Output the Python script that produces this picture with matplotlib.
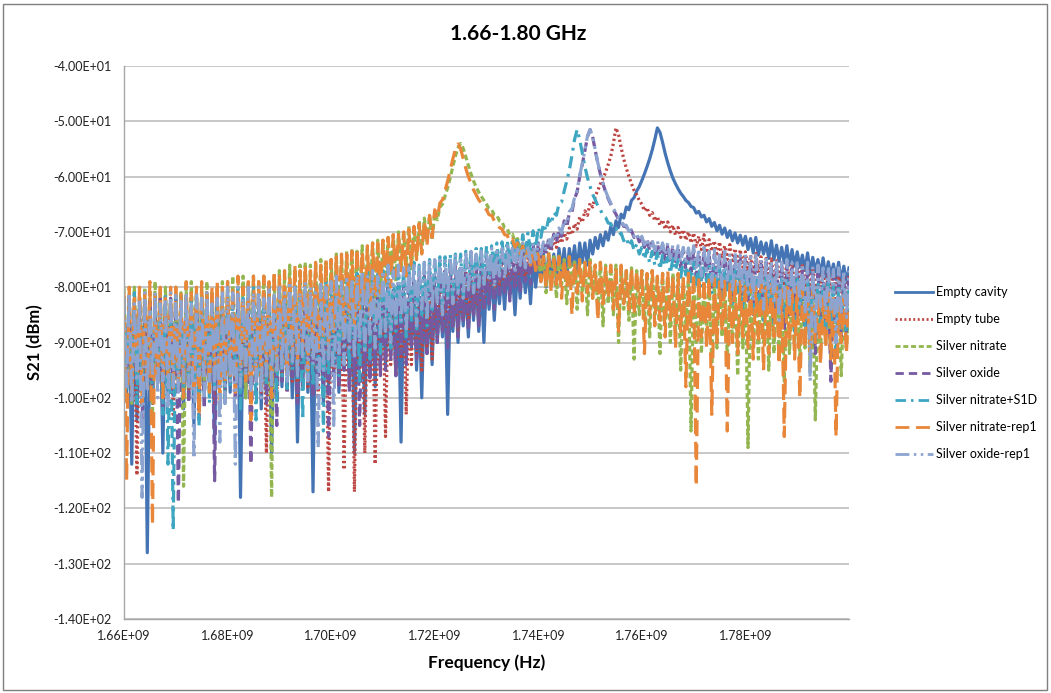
import matplotlib
matplotlib.use("Agg")
import matplotlib.pyplot as plt
import numpy as np
from matplotlib.patches import Rectangle
from matplotlib.ticker import FuncFormatter

plt.rcParams["font.family"] = ["Lato", "DejaVu Sans"]

# S21 readings (dBm), one value every 0.5 MHz from 1.66 GHz to 1.80 GHz
FREQ_START_HZ = 1.66e9
FREQ_STEP_HZ = 0.5e6

empty_cavity = [
    -84, -99, -86, -112, -83, -104, -85, -98, -84, -128, -87, -101, -83, -97, -85, -110, -84, -100, -86, -96,
    -85, -97, -83, -102, -86, -99, -84, -105, -85, -96, -87, -100, -84, -98, -85, -108, -83, -97, -86, -101,
    -85, -99, -86, -97, -84, -118, -86, -100, -85, -98, -87, -96, -84, -102, -86, -99, -85, -110, -86, -97,
    -86, -98, -85, -96, -87, -100, -84, -108, -86, -97, -85, -99, -86, -117, -84, -96, -86, -101, -85, -98,
    -85, -96, -84, -99, -86, -95, -83, -97, -85, -110, -84, -94, -86, -103, -84, -96, -85, -98, -83, -94,
    -83, -94, -82, -92, -84, -96, -83, -108, -82, -93, -84, -91, -82, -95, -83, -100, -82, -92, -83, -94,
    -81, -90, -82, -89, -80, -103, -81, -88, -80, -90, -79, -87, -80, -89, -79, -86, -78, -88, -79, -90,
    -78, -84, -77, -86, -78, -83, -77, -84, -76, -82, -77, -85, -76, -82, -75, -81, -76, -83, -75, -80,
    -75, -79, -74, -80, -74, -78, -74, -79, -73, -77, -73, -78, -73, -76, -72.5, -77, -72, -75.5, -72, -76,
    -71.5, -74, -71, -73, -70.5, -72.5, -70, -71.5, -69, -70.5, -68, -69.2, -66.8, -67.5, -65.5, -66, -64.3, -63.8, -62.6, -61.8,
    -60.7, -59.5, -58.2, -56.8, -55.2, -53.3, -51.2, -52.0, -53.8, -55.8, -57.5, -59.0, -60.3, -61.3, -62.2, -63.0, -63.6, -64.3, -64.7, -65.4,
    -65.6, -66.6, -66.3, -67.3, -67.0, -68.2, -67.6, -69.0, -68.3, -69.8, -68.8, -70.4, -69.3, -71.0, -69.8, -71.6, -70.2, -72.0, -70.6, -72.4,
    -70.8, -73.2, -71.2, -73.8, -71.0, -74.2, -71.8, -74.0, -72.0, -74.8, -71.6, -75.0, -72.4, -75.3, -72.8, -75.6, -72.5, -76.0, -73.2, -76.2,
    -73.6, -76.4, -74.2, -77.0, -73.8, -77.4, -74.6, -77.2, -75.0, -77.8, -74.7, -78.2, -75.4, -78.0, -75.8, -78.6, -75.5, -79.0, -76.2, -79.2,
    -76.5,
]

empty_tube = [
    -85, -97, -84, -100, -86, -114, -84, -98, -85, -96, -83, -101, -85, -97, -84, -99, -86, -97, -84, -103,
    -84, -98, -85, -96, -83, -100, -85, -97, -84, -104, -86, -98, -84, -97, -85, -101, -83, -96, -85, -99,
    -84, -97, -85, -100, -83, -96, -85, -98, -84, -102, -85, -97, -84, -99, -83, -110, -85, -97, -84, -100,
    -84, -96, -85, -99, -83, -97, -84, -101, -85, -96, -83, -98, -84, -97, -85, -100, -83, -96, -84, -117,
    -83, -96, -84, -98, -82, -113, -84, -96, -83, -117, -84, -95, -82, -110, -84, -97, -83, -112, -82, -95,
    -82, -107, -83, -94, -81, -96, -82, -93, -81, -103, -82, -94, -80, -92, -81, -95, -80, -91, -81, -93,
    -80, -89, -79, -88, -80, -90, -78, -87, -79, -88, -78, -86, -77, -87, -78, -85, -77, -86, -76, -84,
    -76, -81, -75.5, -82, -75, -80, -75, -81, -74.5, -79, -74, -80, -74, -78, -73.5, -79, -73.5, -77, -73, -76,
    -73, -74.5, -72.5, -74, -72, -73.5, -71.2, -72.8, -70.8, -72, -70.2, -71.3, -69.3, -70.5, -68.5, -69.5, -67.3, -68.3, -66.2, -67.0,
    -64.8, -65.5, -63.5, -62.5, -61.3, -60.4, -59.2, -57.8, -56.3, -54.0, -51.2, -52.4, -54.8, -56.8, -58.5, -60.0, -61.3, -62.5, -63.3, -64.3,
    -65.0, -66.2, -65.6, -67.0, -66.5, -68.0, -67.2, -68.8, -67.8, -69.5, -68.2, -70.0, -68.8, -70.6, -69.2, -71.0, -69.6, -71.5, -70.0, -72.0,
    -70.2, -72.6, -70.8, -73.2, -70.5, -73.8, -71.4, -73.5, -71.6, -74.4, -71.8, -74.8, -72.5, -75.0, -72.3, -75.6, -73.0, -75.8, -73.2, -76.4,
    -73.6, -77.0, -74.2, -78.2, -73.9, -77.5, -74.5, -78.8, -74.8, -78.0, -74.6, -79.3, -75.2, -78.6, -75.5, -79.8, -75.2, -79.0, -75.8, -80.2,
    -76.0, -79.5, -75.7, -80.6, -76.4, -80.0, -76.8, -81.0, -76.5, -80.4, -77.0, -81.5, -77.3, -80.8, -77.1, -82.0, -77.6, -81.2, -77.8, -82.4,
    -78.0,
]

silver_nitrate = [
    -80, -98, -81, -101, -80, -96, -82, -99, -80, -97, -81, -103, -79, -96, -81, -100, -80, -97, -82, -98,
    -80, -96, -81, -116, -80, -98, -79, -95, -81, -100, -80, -97, -79, -99, -81, -96, -80, -98, -79, -101,
    -79, -95, -78, -98, -80, -96, -78, -100, -79, -94, -78, -97, -79, -95, -78, -99, -79, -118, -78, -96,
    -77, -94, -78, -92, -76, -95, -77, -91, -76, -93, -75.5, -90, -76, -94, -75.5, -91, -75, -89, -75.5, -92,
    -75, -87, -74, -89, -74.5, -86, -73.5, -88, -73, -85, -73.5, -84, -72.5, -86, -73, -83, -72, -84, -71.5, -82,
    -71.5, -80, -71, -78, -70.5, -79, -70, -77, -70, -76, -69, -77, -69, -75, -68, -73.5, -67.5, -72, -67, -71.5,
    -66.6, -67.8, -65.5, -65.0, -63.5, -62.0, -60.2, -58.2, -56.3, -54.8, -54.0, -54.9, -56.4, -58.0, -59.5, -60.8, -61.9, -62.8, -63.6, -64.3,
    -65.0, -65.8, -66.0, -66.9, -67.0, -68.0, -68.2, -69.3, -69.4, -70.6, -70.4, -71.8, -71.2, -73.0, -72.0, -74.2, -72.6, -75.4, -73.2, -76.2,
    -73.5, -79, -74, -81, -73.5, -80, -74.5, -82, -74, -79.5, -75, -83, -74.5, -80, -75, -84, -75, -81, -75.5, -85,
    -75, -82, -76, -84, -75.5, -87, -76, -83, -76.5, -85, -76, -90, -76.5, -84, -77, -86, -76.5, -93, -77, -85,
    -77, -86, -77.5, -89, -77, -85, -78, -92, -77.5, -87, -78, -90, -77.5, -88, -78, -95, -78.5, -87, -78, -106,
    -78, -90, -78.5, -92, -79, -88, -78.5, -94, -79, -91, -78.5, -89, -79, -93, -79.5, -90, -79, -96, -79.5, -91,
    -79, -109, -79.5, -91, -80, -93, -79.5, -90, -80, -95, -80.5, -92, -80, -91, -80.5, -97, -80, -92, -81, -90,
    -80.5, -93, -81, -91, -80.5, -95, -81, -104, -81.5, -92, -81, -90, -81.5, -94, -82, -91, -81.5, -96, -82, -91,
    -82,
]

silver_oxide = [
    -83, -97, -82, -100, -84, -98, -82, -104, -83, -96, -82, -99, -84, -97, -82, -103, -83, -98, -82, -100,
    -82, -119, -83, -98, -82, -101, -84, -97, -82, -99, -83, -102, -82, -97, -83, -115, -82, -98, -84, -100,
    -82, -97, -83, -100, -82, -98, -83, -96, -82, -112, -84, -99, -82, -97, -83, -101, -82, -98, -83, -105,
    -83, -97, -82, -99, -83, -96, -82, -101, -84, -98, -82, -97, -83, -100, -82, -96, -83, -98, -82, -107,
    -82, -96, -81, -98, -82, -95, -81, -99, -82, -96, -81, -105, -82, -95, -80, -97, -81, -94, -80, -96,
    -80, -95, -79, -93, -80, -96, -79, -92, -79, -94, -78, -91, -79, -93, -78, -90, -78, -92, -77, -89,
    -78, -90, -77, -88, -77, -91, -76, -87, -76, -89, -76, -86, -75.5, -88, -75, -85, -75, -87, -74.5, -84,
    -74.5, -83, -74, -84, -74, -82, -73.5, -81, -73.5, -82.5, -73, -80, -73, -81, -72.5, -79, -72.5, -79.5, -72, -77,
    -72.0, -75.0, -71.8, -74.0, -71.2, -73.0, -70.4, -72.0, -69.5, -70.8, -68.0, -69.2, -66.5, -66.4, -64.0, -62.8, -60.0, -57.8, -55.3, -52.8,
    -51.5, -52.8, -55.3, -57.6, -59.6, -61.3, -62.8, -64.0, -65.0, -66.0, -66.8, -67.8, -68.0, -69.0, -69.0, -70.2, -69.8, -71.0, -70.4, -71.8,
    -71.0, -72.8, -71.4, -73.4, -71.8, -74.0, -72.0, -74.5, -72.3, -75.2, -72.5, -75.5, -72.8, -76.0, -73.0, -76.4, -73.2, -76.8, -73.4, -77.2,
    -73.5, -78, -73.8, -79, -73.6, -78.5, -74.2, -80, -74, -79.5, -74.5, -81, -74.2, -80, -74.8, -82, -74.5, -80.5, -75, -82,
    -75, -82.5, -75.4, -84, -75.2, -83, -75.8, -85, -75.5, -83.5, -76, -86, -75.8, -84, -76.4, -88, -76, -85, -76.6, -86,
    -76.2, -85, -76.8, -87, -76.5, -86, -77, -92, -76.8, -86.5, -77.4, -88, -77, -97, -77.6, -87, -77.3, -89, -77.8, -88,
    -78,
]

silver_nitrate_s1d = [
    -82, -99, -83, -97, -81, -101, -83, -98, -82, -96, -84, -100, -82, -97, -83, -103, -81, -112, -83, -124,
    -82, -98, -81, -100, -83, -97, -82, -99, -81, -105, -83, -96, -82, -101, -81, -98, -83, -97, -82, -100,
    -81, -98, -82, -96, -80, -102, -82, -97, -81, -99, -80, -104, -82, -96, -81, -98, -80, -97, -82, -101,
    -80, -96, -81, -99, -80, -95, -81, -97, -79, -104, -80, -96, -81, -98, -79, -95, -80, -106, -79, -96,
    -79, -94, -78, -96, -79, -93, -78, -95, -78, -92, -77.5, -97, -78, -91, -77, -93, -77.5, -90, -77, -92,
    -77, -89, -76.5, -91, -76.5, -88, -76, -87, -76.5, -89, -76, -86, -75.5, -88, -76, -85, -75.5, -87, -75, -84,
    -75, -83, -74.5, -84, -74.5, -82, -74, -83, -74, -81, -74, -82, -73.5, -80, -73.5, -81, -73, -79.5, -73, -80,
    -72.5, -78, -72.5, -77, -72, -77.5, -71.8, -76, -71.5, -76, -71.2, -75, -71, -74.8, -70.5, -74, -70.2, -73.5, -69.8, -72.8,
    -69.2, -71.0, -68.5, -69.8, -67.6, -68.6, -66.5, -67.0, -64.9, -64.6, -62.6, -60.8, -58.8, -56.2, -53.3, -51.5, -53.3, -55.8, -58.2, -60.2,
    -61.8, -63.2, -64.2, -65.3, -66.0, -67.0, -67.4, -68.4, -68.5, -69.6, -69.4, -70.6, -70.2, -71.6, -71.0, -72.6, -71.6, -73.4, -72.2, -74.0,
    -72.8, -75.0, -73.2, -75.6, -73.5, -76.0, -73.8, -76.8, -74.2, -76.2, -74.5, -77.5, -74.8, -77.0, -75.0, -78.2, -75.2, -77.8, -75.5, -79.0,
    -75.5, -79.5, -75.8, -80, -76, -79, -76.2, -81, -76.5, -80, -76.5, -82, -76.8, -80.5, -77, -83, -77, -81, -77.2, -84,
    -77.3, -82, -77.6, -85, -77.5, -83, -78, -86, -77.8, -84, -78.2, -87, -78, -84.5, -78.5, -86, -78.2, -85, -78.8, -88,
    -78.5, -85, -79, -87, -78.8, -86, -79.2, -90, -79, -86.5, -79.5, -88, -79.2, -87, -79.8, -92, -79.5, -87.5, -80, -89,
    -80,
]

silver_nitrate_rep1 = [
    -81, -115, -80, -99, -82, -96, -80, -101, -81, -98, -79, -123, -81, -97, -80, -100, -82, -96, -80, -99,
    -80, -97, -81, -100, -79, -95, -81, -98, -80, -103, -79, -96, -81, -99, -80, -95, -79, -101, -80, -97,
    -79, -96, -80, -99, -78, -94, -80, -97, -79, -104, -78, -95, -79, -98, -78, -94, -79, -100, -77, -95,
    -78, -93, -77, -96, -78, -92, -76, -94, -77, -91, -76, -95, -77, -90, -75.5, -92, -76, -89, -75, -91,
    -75, -88, -74.5, -86, -74, -89, -74, -85, -73.5, -87, -73, -84, -73.5, -83, -72.5, -85, -72, -82, -72, -81,
    -71.5, -79, -71, -80, -70.5, -78, -70.5, -77, -70, -78, -69.5, -76, -69, -75, -68.5, -74, -68, -72.5, -67, -71,
    -66.0, -67.5, -64.8, -64.2, -62.5, -60.8, -58.8, -56.8, -55.0, -54.1, -55.0, -56.7, -58.5, -60.0, -61.2, -62.4, -63.3, -64.2, -64.8, -65.6,
    -66.0, -66.9, -67.0, -68.0, -68.3, -69.2, -69.5, -70.5, -70.6, -71.8, -71.3, -72.8, -72.0, -74.0, -72.6, -75.0, -73.2, -76.0, -73.6, -77.0,
    -74, -79, -74.5, -80, -74, -81, -75, -79.5, -74.5, -82, -75, -80, -74.5, -85, -75.5, -81, -75, -82.5, -75.5, -81,
    -75.5, -82, -76, -86, -75.5, -83, -76.5, -82, -76, -84, -76.5, -88, -76, -83, -77, -84, -76.5, -85, -77, -83,
    -77, -92, -77.5, -85, -77, -87, -78, -86, -77.5, -89, -77, -86, -78, -91, -77.5, -88, -78, -98, -77.5, -87,
    -77.5, -116, -78, -89, -78.5, -91, -78, -103, -78.5, -90, -79, -88, -78.5, -106, -79, -90, -78.5, -92, -79, -89,
    -79, -91, -79.5, -93, -80, -90, -79.5, -95, -80, -92, -79.5, -89, -80, -94, -80.5, -107, -80, -90, -80.5, -93,
    -80, -100, -80.5, -91, -81, -92, -80.5, -90, -81, -94, -81.5, -91, -81, -93, -81.5, -107, -82, -90, -81.5, -92,
    -82,
]

silver_oxide_rep1 = [
    -82, -98, -81, -101, -83, -97, -82, -118, -81, -99, -84, -96, -81, -100, -83, -97, -82, -102, -81, -98,
    -81, -99, -82, -97, -81, -98, -83, -111, -81, -96, -82, -100, -81, -97, -83, -99, -82, -108, -81, -101,
    -80, -97, -81, -112, -80, -98, -82, -96, -80, -99, -81, -97, -80, -100, -82, -96, -80, -98, -81, -95,
    -80, -95, -81, -97, -79, -94, -80, -96, -81, -93, -79, -97, -80, -94, -81, -109, -79, -95, -80, -93,
    -79, -105, -78, -92, -79, -94, -78, -91, -79, -93, -78, -90, -77, -92, -78, -89, -77, -91, -78, -89,
    -77, -88, -76, -90, -77, -87, -76, -86, -76.5, -88, -76, -85, -75.5, -87, -76, -84, -75.5, -86, -75, -84,
    -75, -83, -74.5, -85, -75, -82, -74.5, -83, -74, -81.5, -74.5, -82, -74, -80.5, -73.5, -81, -74, -80, -73.5, -79.5,
    -73.5, -79, -73, -80, -73.5, -78, -73, -78.5, -72.5, -77, -73, -77.5, -72.5, -76, -72, -76.5, -72.5, -75.5, -72, -75,
    -72.0, -74.0, -71.8, -73.2, -71.0, -72.4, -70.2, -71.3, -69.3, -70.2, -67.8, -68.6, -66.3, -65.8, -63.8, -62.5, -59.8, -57.6, -55.2, -52.7,
    -51.5, -52.7, -55.2, -57.5, -59.5, -61.2, -62.6, -63.8, -64.8, -65.8, -66.5, -67.5, -67.8, -68.8, -68.8, -69.9, -69.6, -70.8, -70.2, -71.6,
    -70.8, -72.3, -71.2, -72.9, -71.5, -73.4, -71.6, -73.9, -72.0, -74.2, -72.0, -74.8, -72.4, -75.0, -72.5, -75.5, -72.8, -75.8, -72.9, -76.2,
    -72.5, -77, -73, -78, -72.8, -77.5, -73.5, -79, -73.2, -78.2, -73.8, -80, -73.5, -78.8, -74, -81, -73.8, -79.5, -74.2, -80.5,
    -74, -81, -74.5, -82.5, -74.2, -80.5, -75, -84, -74.5, -81.5, -75.2, -83, -74.8, -86, -75.5, -82, -75, -83.5, -75.6, -81.5,
    -75.2, -83, -75.8, -84.5, -75.5, -97, -76.2, -88, -76, -83.5, -76.5, -85, -76.2, -84, -76.8, -90, -76.5, -84.5, -77, -85.5,
    -77,
]

series_names = [
    "Empty cavity",
    "Empty tube",
    "Silver nitrate",
    "Silver oxide",
    "Silver nitrate+S1D",
    "Silver nitrate-rep1",
    "Silver oxide-rep1",
]
series_values = [
    empty_cavity,
    empty_tube,
    silver_nitrate,
    silver_oxide,
    silver_nitrate_s1d,
    silver_nitrate_rep1,
    silver_oxide_rep1,
]
series_colors = ["#4574B4", "#BC4441", "#93B651", "#7659A1", "#3FA6C1", "#E8863A", "#8CA4CF"]
series_styles = [
    "-",
    (0, (0.7, 0.9)),
    (0, (1.8, 1.0)),
    (0, (3.0, 1.8)),
    (0, (3.8, 1.8, 0.9, 1.8)),
    (0, (5.0, 2.4)),
    (0, (5.0, 1.6, 0.9, 1.6, 0.9, 1.6)),
]

x_ticks = [1.66e9, 1.68e9, 1.70e9, 1.72e9, 1.74e9, 1.76e9, 1.78e9]
y_ticks = [-140, -130, -120, -110, -100, -90, -80, -70, -60, -50, -40]

W, H = 1051, 693
fig = plt.figure(figsize=(W / 100, H / 100), dpi=100)
ax = fig.add_axes([124 / W, 1 - 619 / H, (849 - 124) / W, (619 - 66) / H])

for name, vals, color, style in zip(series_names, series_values, series_colors, series_styles):
    freq = FREQ_START_HZ + FREQ_STEP_HZ * np.arange(len(vals))
    ax.plot(freq, vals, color=color, linestyle=style, linewidth=2.3, label=name)

ax.set_xlim(1.66e9, 1.80e9)
ax.set_ylim(-140, -40)
ax.set_xticks(x_ticks)
ax.set_yticks(y_ticks)
ax.xaxis.set_major_formatter(FuncFormatter(lambda v, p: f"{v:.2E}"))
ax.yaxis.set_major_formatter(FuncFormatter(lambda v, p: f"{v:.2E}"))
ax.tick_params(axis="both", length=0, labelsize=9, colors="#222222")
ax.tick_params(axis="y", pad=9)
ax.tick_params(axis="x", pad=8)
ax.yaxis.grid(True, color="#B8B8B8", linewidth=1.1)
ax.set_axisbelow(True)
for side in ("top", "right"):
    ax.spines[side].set_visible(False)
for side in ("left", "bottom"):
    ax.spines[side].set_color("#A6A6A6")
    ax.spines[side].set_linewidth(1.0)

fig.text(518 / W, 1 - 34 / H, "1.66-1.80 GHz", ha="center", va="center",
         fontsize=15, fontweight="bold")
fig.text(487 / W, 1 - 663 / H, "Frequency (Hz)", ha="center", va="center",
         fontsize=12.5, fontweight="bold")
fig.text(35 / W, 1 - 342 / H, "S21 (dBm)", ha="center", va="center",
         rotation=90, fontsize=12, fontweight="bold")

legend = fig.legend(loc="upper left", bbox_to_anchor=(895 / W, 1 - 286 / H), frameon=False,
                    fontsize=9, handlelength=3.0, handletextpad=0.3, labelspacing=1.2,
                    borderpad=0, borderaxespad=0)
for handle in legend.get_lines():
    handle.set_linewidth(2.0)

fig.patches.append(Rectangle((3 / W, 3 / H), 1 - 7 / W, 1 - 7 / H, transform=fig.transFigure,
                             fill=False, edgecolor="#7F7F7F", linewidth=1.0))

fig.savefig("out.png", dpi=100)
